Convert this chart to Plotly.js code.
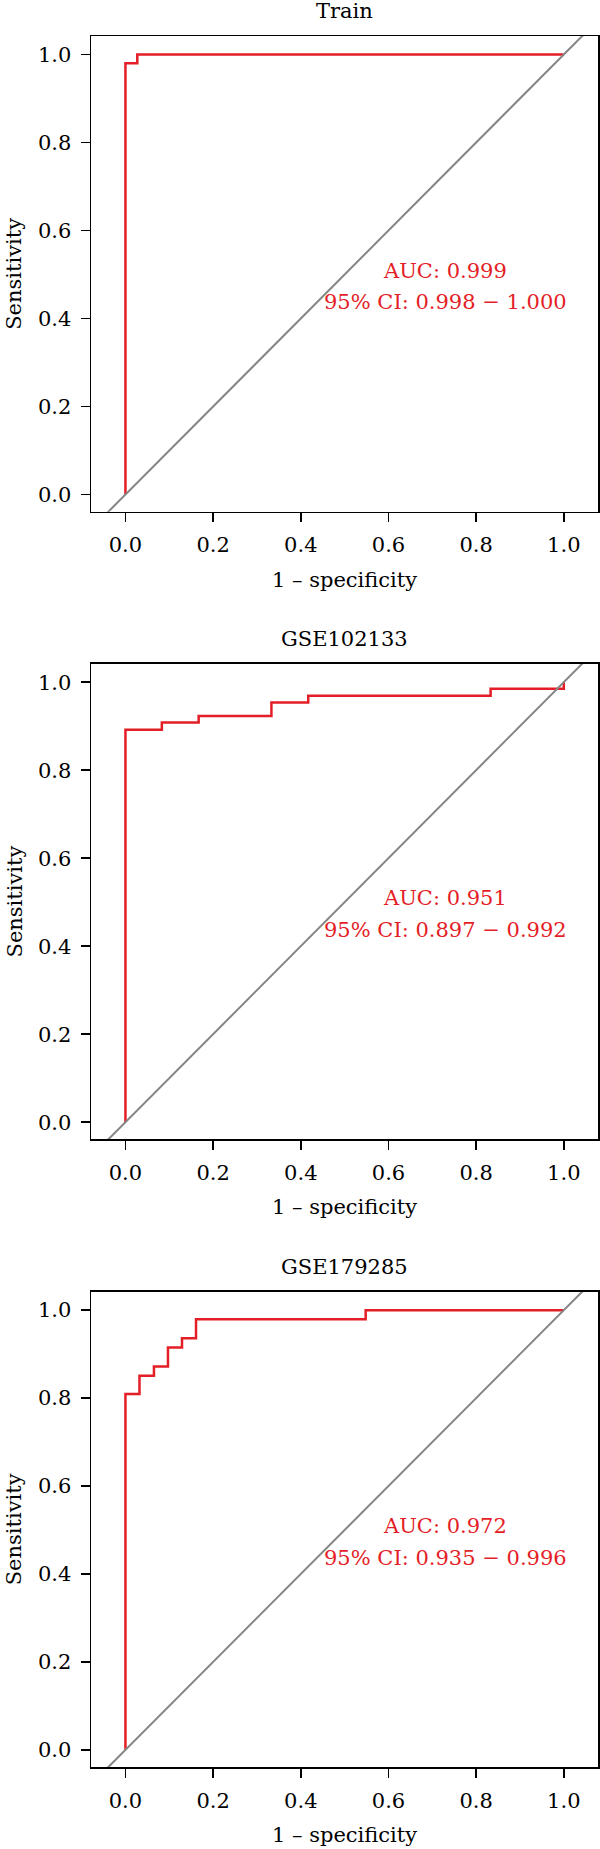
<!DOCTYPE html>
<html><head><meta charset="utf-8">
<script src="https://cdn.plot.ly/plotly-3.0.1.min.js"></script>
<style>body{margin:0;background:#fff}</style>
</head><body><div id="chart" style="width:600px;height:1849px"></div>
<script>
const panelTitles = ["Train", "GSE102133", "GSE179285"];
const fprTrain = [0, 0, 0.027, 1];
const tprTrain = [0, 0.98, 1, 1];
const fprGSE102133 = [0, 0, 0.083, 0.167, 0.333, 0.417, 0.833, 1];
const tprGSE102133 = [0, 0.892, 0.908, 0.923, 0.954, 0.969, 0.985, 1];
const fprGSE179285 = [0, 0, 0.032, 0.065, 0.097, 0.129, 0.161, 0.548, 1];
const tprGSE179285 = [0, 0.809, 0.851, 0.872, 0.915, 0.936, 0.979, 1, 1];
const aucLabels = ["AUC: 0.999", "AUC: 0.951", "AUC: 0.972"];
const ciLabels = ["95% CI: 0.998 \u2212 1.000", "95% CI: 0.897 \u2212 0.992", "95% CI: 0.935 \u2212 0.996"];
const tickVals = [0, 0.2, 0.4, 0.6, 0.8, 1.0];
const tickLabels = ["0.0", "0.2", "0.4", "0.6", "0.8", "1.0"];
const diagonal = [-0.2, 1.2];

const fprs = [fprTrain, fprGSE102133, fprGSE179285];
const tprs = [tprTrain, tprGSE102133, tprGSE179285];

const RED = "#E41E26";
const FONT = "DejaVu Serif, Liberation Serif, serif";
const FS = 21;
const domains = [[0.7252, 1.0], [0.3626, 0.6374], [0.0, 0.2746]];

const data = [];
const layout = {
  width: 600, height: 1849,
  margin: {l: 91, r: 2, t: 36, b: 82},
  paper_bgcolor: "#fff", plot_bgcolor: "#fff",
  showlegend: false,
  font: {family: FONT, size: FS, color: "#000"},
  annotations: []
};

for (let i = 0; i < 3; i++) {
  const sfx = i === 0 ? "" : String(i + 1);
  const xa = "x" + sfx, ya = "y" + sfx;
  data.push({x: fprs[i], y: tprs[i], xaxis: xa, yaxis: ya, type: "scatter", mode: "lines",
    line: {color: RED, width: 2.5, shape: "hv"}, hoverinfo: "skip"});
  data.push({x: diagonal, y: diagonal, xaxis: xa, yaxis: ya, type: "scatter", mode: "lines",
    line: {color: "#858585", width: 2}, hoverinfo: "skip"});
  const common = {showgrid: false, zeroline: false, showline: true, mirror: true,
    linecolor: "#000", linewidth: 1.5, ticks: "outside", ticklen: 9, tickwidth: 1.5,
    tickcolor: "#000", tickvals: tickVals, ticktext: tickLabels,
    tickfont: {family: FONT, size: FS, color: "#000"}, fixedrange: true};
  layout["xaxis" + sfx] = Object.assign({}, common, {range: [-0.0786, 1.078], anchor: ya,
    domain: [0, 1], ticklabelstandoff: 5});
  layout["yaxis" + sfx] = Object.assign({}, common, {range: [-0.039, 1.042], anchor: xa,
    domain: domains[i], ticklabelstandoff: 5});
  layout.annotations.push({text: panelTitles[i], xref: xa + " domain", yref: ya + " domain",
    x: 0.5, y: 1, yanchor: "middle", yshift: 25, showarrow: false,
    font: {family: FONT, size: FS, color: "#000"}});
  layout.annotations.push({text: "1 \u2013 specificity", xref: xa + " domain", yref: ya + " domain",
    x: 0.5, y: 0, yanchor: "middle", yshift: -68, showarrow: false,
    font: {family: FONT, size: FS, color: "#000"}});
  layout.annotations.push({text: "Sensitivity", xref: "paper", yref: ya + " domain",
    x: 0, xanchor: "center", y: 0.5, xshift: -77, textangle: -90, showarrow: false,
    font: {family: FONT, size: FS, color: "#000"}});
  layout.annotations.push({text: aucLabels[i], xref: xa, yref: ya, x: 0.73, y: 0.509,
    showarrow: false, font: {family: FONT, size: FS, color: RED}});
  layout.annotations.push({text: ciLabels[i], xref: xa, yref: ya, x: 0.73, y: 0.437,
    showarrow: false, font: {family: FONT, size: FS, color: RED}});
}

Plotly.newPlot("chart", data, layout, {staticPlot: true});
</script>
</body></html>
